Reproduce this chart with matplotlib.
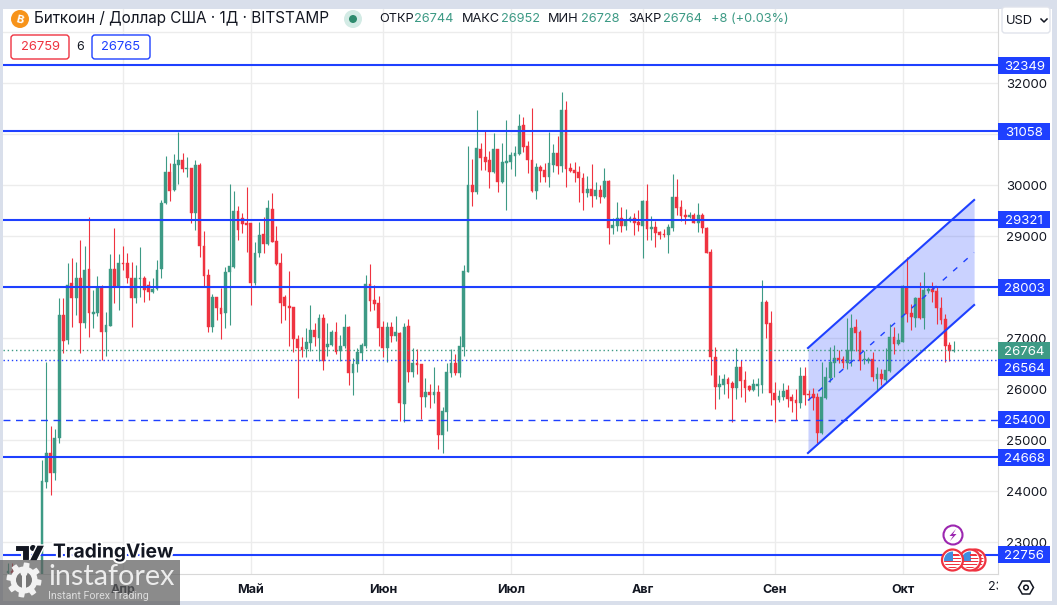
import numpy as np
import pandas as pd
import matplotlib
matplotlib.use("Agg")
import matplotlib.pyplot as plt
import matplotlib.dates as mdates
import matplotlib.patheffects as pe
from matplotlib.patches import Rectangle, Circle, FancyBboxPatch, Polygon
from matplotlib.transforms import Bbox, TransformedBbox

plt.rcParams['font.family'] = ['Inter', 'DejaVu Sans']

#---------------------- data ----------------------
nan = np.nan
first_day = "2023-03-05"
opens = [22400, 22430, nan, nan, nan, nan, nan, nan, 22150, 24180,
 24750, 24360, 25040, 27460, 26970, 28080, 27790, 28180, 27300, 28360,
 27480, 27500, 28000, 27120, 27240, 28360, 28000, 28480, 28480, 28180,
 27790, 28160, 28180, 28040, 27910, 27970, 28360, 29650, 30260, 29910,
 30400, 30490, 30320, 30340, 29460, 30400, 28810, 28240, 27220, 27810,
 27590, 27500, 28300, 28400, 29490, 29360, 29260, 29260, 28080, 28670,
 29040, 28850, 29530, 28910, 28480, 27810, 27630, 27610, 26990, 26830,
 26790, 26910, 27160, 27010, 27400, 26830, 26870, 27120, 26750, 26850,
 27220, 26320, 26500, 26710, 26850, 28060, 27750, 27690, 27220, 26810,
 27220, 27040, 27100, 25710, 27240, 26340, 26520, 26500, 25850, 25950,
 25890, 25950, 25100, 25550, 26320, 26520, 26320, 26830, 28300, 30000,
 29870, 30710, 30550, 30490, 30260, 30710, 30060, 30430, 30450, 30570,
 30610, 31180, 30770, 30490, 29890, 30360, 30300, 30160, 30400, 30630,
 30380, 31470, 30340, 30300, 30260, 30140, 29850, 29930, 29790, 29910,
 29770, 30080, 29160, 29200, 29360, 29200, 29300, 29360, 29280, 29200,
 29690, 29140, 29180, 29080, 29040, 29020, 29160, 29770, 29570, 29420,
 29380, 29420, 29260, 29420, 29160, 28690, 26630, 26040, 26080, 26200,
 26120, 26020, 26440, 26180, 26060, 25980, 26060, 26080, 27710, 27300,
 25930, 25790, 25850, 25990, 25850, 25790, 25730, 26260, 25910, 25910,
 25850, 25140, 25830, 26220, 26510, 26610, 26590, 26510, 26750, 27220,
 27120, 26570, 26550, 26590, 26200, 26300, 26180, 26360, 27020, 26890,
 26930, 28000, 27500, 27400, 27790, 27400, 27930, 27970, 27930, 27590,
 27380, 26870, 26744]
highs = [22600, 22600, nan, nan, nan, nan, nan, nan, 24610, 26530,
 25280, 25220, 27790, 27790, 28480, 28570, 28500, 28930, 28810, 29380,
 27950, 28220, 28040, 27520, 28650, 29160, 28650, 28810, 28670, 28500,
 28440, 28790, 28220, 28120, 28180, 28530, 29710, 30570, 30440, 30610,
 31040, 30630, 30550, 30340, 30490, 30440, 29100, 28360, 27870, 27810,
 27990, 28400, 30020, 29890, 29590, 29460, 29960, 29260, 28890, 29280,
 29380, 29710, 29850, 29200, 28670, 27850, 28320, 27610, 27070, 27030,
 27200, 27650, 27300, 27480, 27480, 27300, 27160, 27320, 27070, 27480,
 27240, 26620, 26810, 26910, 28240, 28460, 28040, 27830, 27340, 27320,
 27320, 27440, 27120, 27300, 27380, 26810, 26790, 26500, 26220, 26100,
 26440, 26080, 25650, 26520, 26790, 26690, 27040, 28440, 30770, 30510,
 31470, 30830, 31060, 30670, 31020, 30710, 30830, 31280, 30650, 30770,
 31400, 31340, 30870, 31510, 30440, 30400, 30440, 31040, 30810, 30970,
 31830, 31650, 30440, 30450, 30380, 30240, 30180, 30420, 30060, 30000,
 30340, 30100, 29360, 29670, 29570, 29530, 29400, 29460, 29510, 29710,
 30020, 29400, 29300, 29100, 29140, 29240, 30220, 30120, 29710, 29530,
 29470, 29460, 29650, 29460, 29180, 28750, 26830, 26280, 26300, 26240,
 26160, 26810, 26570, 26360, 26080, 26200, 26220, 28140, 27750, 27540,
 26140, 25990, 26120, 26080, 25910, 26010, 26440, 26440, 25990, 26030,
 25930, 26530, 26440, 26830, 26870, 26770, 26650, 27400, 27480, 27380,
 27160, 26750, 26630, 26730, 26440, 26400, 26810, 27280, 27220, 27100,
 28040, 28590, 27670, 27810, 28100, 28300, 28020, 28100, 28000, 27810,
 27480, 26930, 26952]
lows = [22200, 22300, nan, nan, nan, nan, nan, nan, 21900, 24060,
 23930, 24220, 24950, 26710, 26890, 27220, 27460, 26710, 27200, 27020,
 27200, 27440, 26570, 26650, 27240, 27690, 27550, 28340, 28080, 27220,
 27690, 27810, 27710, 27750, 27890, 27950, 28180, 29630, 29690, 29890,
 30020, 30260, 30160, 29260, 29120, 28590, 28000, 27120, 27120, 27360,
 26990, 27200, 27260, 28380, 28930, 29060, 28690, 27650, 28040, 28590,
 28670, 28830, 28890, 28440, 27300, 27360, 26850, 26730, 25830, 26630,
 26630, 26750, 26850, 26550, 26380, 26650, 26850, 26690, 26550, 26810,
 26080, 25890, 26340, 26570, 26810, 27540, 27550, 26850, 26630, 26530,
 26930, 26950, 25380, 25360, 26140, 26240, 26300, 25420, 25650, 25630,
 25730, 24830, 24750, 25180, 26240, 26280, 26240, 26650, 28300, 29590,
 29830, 30300, 30300, 29950, 30240, 29870, 30040, 29510, 30320, 30180,
 30590, 30650, 30240, 29870, 29730, 30060, 30060, 29970, 30260, 30220,
 30260, 29970, 30260, 30060, 29670, 29510, 29770, 29570, 29730, 29650,
 29750, 28850, 29040, 29100, 29080, 29120, 29280, 29020, 29100, 28570,
 28930, 28930, 28790, 28950, 28980, 28670, 29100, 29420, 29300, 29240,
 29360, 29260, 29080, 29060, 28670, 26280, 25610, 25810, 25910, 25830,
 25360, 25810, 25850, 25750, 25960, 25960, 25870, 25930, 27000, 25690,
 25360, 25750, 25790, 25650, 25550, 25400, 25630, 25690, 25790, 25590,
 24950, 25120, 25810, 26140, 26240, 26510, 26420, 26400, 26460, 26750,
 26380, 26500, 26510, 26160, 25990, 26080, 26140, 26340, 26690, 26870,
 26930, 27320, 27160, 27220, 27380, 27180, 27890, 27710, 27280, 27280,
 26530, 26550, 26728]
closes = [22430, 22400, nan, nan, nan, nan, nan, nan, 24200, 24750,
 24360, 25040, 27460, 26950, 28040, 27790, 28180, 27300, 28340, 27500,
 27520, 28000, 27120, 27260, 28360, 28000, 28480, 28460, 28180, 27790,
 28180, 28180, 27950, 27910, 27970, 28340, 29650, 30260, 29890, 30420,
 30490, 30320, 30340, 29460, 30400, 28810, 28220, 27220, 27810, 27590,
 27480, 28300, 28420, 29490, 29120, 29240, 29220, 28080, 28670, 29020,
 28850, 29550, 28890, 28460, 27690, 27630, 27590, 26990, 26810, 26770,
 26930, 27160, 27030, 27400, 26550, 26890, 27120, 26730, 26850, 27220,
 26320, 26500, 26730, 26870, 28060, 27730, 27670, 27200, 26810, 27220,
 27040, 27120, 25730, 27220, 26340, 26520, 26480, 25850, 25950, 25890,
 25950, 25100, 25570, 26340, 26520, 26320, 26850, 28320, 30000, 29870,
 30730, 30530, 30450, 30260, 30710, 30060, 30450, 30470, 30590, 30630,
 31160, 30750, 30490, 29890, 30360, 30280, 30160, 30440, 30630, 30380,
 31470, 30320, 30280, 30240, 30140, 29850, 29930, 29790, 29910, 29770,
 30080, 29160, 29220, 29360, 29200, 29320, 29360, 29260, 29220, 29690,
 29140, 29180, 29060, 29020, 29020, 29180, 29770, 29550, 29400, 29380,
 29420, 29260, 29420, 29160, 28670, 26630, 26040, 26100, 26200, 26100,
 26020, 26440, 26160, 26020, 25980, 26100, 26100, 27710, 27280, 25930,
 25790, 25870, 25970, 25810, 25770, 25730, 26260, 25890, 25890, 25830,
 25140, 25850, 26240, 26530, 26610, 26570, 26510, 26770, 27200, 27100,
 26550, 26590, 26590, 26240, 26300, 26200, 26380, 27020, 26890, 26970,
 28020, 27480, 27420, 27790, 27400, 27950, 27970, 27910, 27590, 27360,
 26850, 26750, 26764]

level_solid = [32349, 31058, 29321, 28003, 24668, 22756]
level_dashed = 25400
level_dotted = 26564
last_price = 26764
price_ticks = list(range(23000, 34000, 1000))
hidden_ticks = [28000, 31000, 33000]
month_starts = ["2023-04-01", "2023-05-01", "2023-06-01", "2023-07-01", "2023-08-01", "2023-09-01", "2023-10-01"]
month_labels = ["Апр", "Май", "Июн", "Июл", "Авг", "Сен", "Окт"]
channel_times = ["2023-09-08 19:00", "2023-10-17 19:00"]
channel_upper = [26808, 29709]
channel_lower = [24750, 27651]
channel_mid = [25779, 28680]

green = "#3d9a85"
red = "#ef3340"
blue = "#1e40ff"
W, H = 1057, 605

#---------------------- figure ----------------------
fig = plt.figure(figsize=(W/100, H/100), dpi=100, facecolor="#d9dfeb")
fig.add_artist(Rectangle((3/W, 4/H), 1049/W, 592/H, transform=fig.transFigure, fc="white", ec="none", zorder=-1))

ax = fig.add_axes([3/W, (H-574)/H, 995/W, 565/H], facecolor="none", zorder=1)

dates = pd.date_range(first_day, periods=len(opens))
x = mdates.date2num(dates)
o, h, l, c = [np.array(v, dtype=float) for v in (opens, highs, lows, closes)]
ok = ~np.isnan(o)
x, o, h, l, c = x[ok], o[ok], h[ok], l[ok], c[ok]
up = c >= o

# channel first, the candles sit on top of it
tc = mdates.date2num(pd.to_datetime(channel_times))
ax.fill_between(tc, channel_lower, channel_upper, color=blue, alpha=0.23, lw=0, zorder=1)

# candles
for mask, col in ((up, green), (~up, red)):
    ax.vlines(x[mask], l[mask], h[mask], color=col, lw=0.8, zorder=2)
    ax.bar(x[mask], np.abs(c[mask]-o[mask]), bottom=np.minimum(o[mask], c[mask]), width=0.66,
           color=col, edgecolor=col, lw=0.3, zorder=3)

# levels
ax.hlines(level_solid, 0, 1, transform=ax.get_yaxis_transform(), color=blue, lw=1.5, zorder=4)
ax.axhline(level_dashed, color=blue, lw=1.0, ls=(0, (5, 4)), zorder=4)
ax.axhline(level_dotted, color=blue, lw=1.0, ls=(0, (1, 2)), zorder=4)
ax.axhline(last_price, color=green, lw=1.0, ls=(0, (1, 2)), zorder=4)
for series, style in ((channel_upper, "-"), (channel_lower, "-"), (channel_mid, (0, (4, 6)))):
    ax.plot(tc, series, color=blue, lw=1.5 if style == "-" else 1.0, ls=style, zorder=4)

# scales
apr1 = mdates.date2num(pd.Timestamp("2023-04-01"))
ax.set_xlim(apr1-28.17, apr1+205.4)
ax.set_ylim(22378.6, 33452.6)
ax.set_yticks(price_ticks)
ax.set_yticklabels(["" if p in hidden_ticks else str(p) for p in price_ticks], fontsize=9.5, color="#131722")
ax.yaxis.tick_right()
ax.set_xticks(mdates.date2num(pd.to_datetime(month_starts)))
ax.set_xticklabels(month_labels, fontsize=9, fontweight="bold", color="#131722")
ax.tick_params(axis="both", length=0)
ax.tick_params(axis="y", pad=6)
ax.tick_params(axis="x", pad=7)
ax.grid(True, color="#ececec", lw=1)
ax.set_axisbelow(True)
for s in ("top", "left"):
    ax.spines[s].set_visible(False)
for s in ("right", "bottom"):
    ax.spines[s].set_color("#d8d8d8")

# price tags on the right scale
def price_tag(price, col, shift=0):
    tag_h = 333
    ax.add_patch(Rectangle((1, price+shift-tag_h/2), 0.0523, tag_h, transform=ax.get_yaxis_transform(),
                           fc=col, ec="none", clip_on=False, zorder=6))
    ax.text(1.0265, price+shift, str(price), transform=ax.get_yaxis_transform(), color="white", fontsize=9.5,
            ha="center", va="center_baseline", zorder=7)

for lv in level_solid:
    price_tag(lv, blue)
price_tag(level_dashed, blue)
price_tag(last_price, green)
price_tag(level_dotted, blue, shift=-130)

#---------------------- chrome, in pixel coords ----------------------
ui = fig.add_axes([0, 0, 1, 1], facecolor="none", zorder=5)
ui.set_xlim(0, W)
ui.set_ylim(H, 0)
ui.axis("off")

# header
ui.add_patch(Circle((20, 19), 9, fc="#f7931a", ec="none"))
ui.text(20, 19.5, "B", color="white", fontsize=8, fontweight="bold", ha="center", va="center", rotation=-14)
ui.text(34, 19, "Биткоин / Доллар США · 1Д · BITSTAMP", fontsize=11, color="#131722", va="center")
ui.add_patch(Circle((353, 19), 9, fc="#d3ebe5", ec="none"))
ui.add_patch(Circle((353, 19), 4, fc="#2e8b6e", ec="none"))
for px, txt, col in ((379, "ОТКР", "#131722"), (414, "26744", green), (462, "МАКС", "#131722"), (501, "26952", green),
                     (548, "МИН", "#131722"), (581, "26728", green), (628, "ЗАКР", "#131722"), (663, "26764", green),
                     (711, "+8 (+0.03%)", green)):
    ui.text(px, 19.5, txt, fontsize=9.2, color=col, va="center")

def button(x0, x1, y0, y1, col, txt, txtcol):
    ui.add_patch(FancyBboxPatch((x0+2, y0+2), x1-x0-4, y1-y0-4, boxstyle="round,pad=2,rounding_size=3",
                                fc="white", ec=col, lw=1, mutation_aspect=1))
    ui.text((x0+x1)/2, (y0+y1)/2+0.5, txt, fontsize=9.3, color=txtcol, ha="center", va="center")

button(11, 69, 35, 59, red, "26759", red)
ui.text(80, 47.5, "6", fontsize=9, color="#131722", ha="center", va="center")
button(92, 150, 35, 59, blue, "26765", blue)
button(1002, 1050, 7, 33, "#e0e3eb", "USD", "#131722")
ui.texts[-1].set_position((1019, 20.5))
ui.plot([1041, 1044, 1047], [19, 22, 19], color="#131722", lw=1.1)

# TradingView logo
halo = [pe.withStroke(linewidth=3, foreground="white")]
logo = "#131722"
ui.add_patch(Polygon([(15, 545), (30, 545), (30, 561), (22, 561), (22, 552), (15, 552)], fc=logo, ec="white", lw=1.5))
ui.add_patch(Circle((33, 548), 3, fc=logo, ec="none"))
ui.add_patch(Polygon([(37, 545), (45, 545), (37, 561), (29, 561)], fc=logo, ec="white", lw=1))
ui.text(53, 552, "TradingView", fontsize=13.8, fontweight="bold", color=logo, va="center", path_effects=halo)

# instaforex box
ui.add_patch(Rectangle((0, 560), 180, 45, fc="#5f5f5f", ec="none", alpha=0.72))
ang = np.linspace(0, 2*np.pi, 97)[:-1]
rad = np.where((np.arange(96) % 12) < 6, 17.5, 13.5)
ui.add_patch(Polygon(np.c_[24+rad*np.cos(ang), 580+rad*np.sin(ang)], fc="#f2f2f2", ec="none"))
ui.add_patch(Circle((24, 580), 8, fc="#777777", ec="none"))
ui.add_patch(Circle((24, 573), 3.5, fc="#f2f2f2", ec="none"))
ui.add_patch(Rectangle((22, 575), 4, 14, fc="#f2f2f2", ec="none"))
ui.text(48, 577, "instaforex", fontsize=20.7, family="Lato", color="#ececec", va="center")
ui.text(48, 596, "Instant Forex Trading", fontsize=7.7, family="Roboto", color="#dddddd", va="center")

# events
def flag(cx, cy):
    ui.add_patch(Circle((cx, cy), 10.5, fc="white", ec=red, lw=1.6))
    clip = Circle((cx, cy), 8.5, transform=ui.transData)
    for k in range(3):
        ui.add_patch(Rectangle((cx-9, cy+0.5+k*3), 18, 1.6, fc=red, ec="none", clip_path=clip))
    ui.add_patch(Rectangle((cx-9, cy-9), 9.5, 9.5, fc="#3f8ee0", ec="none", clip_path=clip))
    ui.add_patch(Rectangle((cx, cy-6), 9, 1.6, fc=red, ec="none", clip_path=clip))
    ui.add_patch(Rectangle((cx, cy-2.5), 9, 1.6, fc=red, ec="none", clip_path=clip))

ui.add_patch(Circle((953, 535), 9.5, fc="white", ec="#9c27b0", lw=1.5))
ui.add_patch(Polygon([(956, 529), (949.5, 536), (953, 536), (950, 541), (956.5, 534), (953, 534)], fc="#9c27b0", ec="none"))
flag(975, 560)
flag(970, 560)
flag(952.5, 560)

# bottom right
t23 = ui.text(988, 587.5, "23", fontsize=9, color="#131722", va="center")
t23.set_clip_on(True)
t23.set_clip_box(TransformedBbox(Bbox([[980, 575], [998, 600]]), ui.transData))
a = np.deg2rad(np.arange(0, 360, 60))
ui.add_patch(Polygon(np.c_[1026+7.5*np.cos(a), 587.5+7.5*np.sin(a)], fc="white", ec="#131722", lw=1.1))
ui.add_patch(Circle((1026, 587.5), 2.3, fc="white", ec="#131722", lw=1.1))

fig.savefig("out.png", dpi=100, facecolor=fig.get_facecolor())
